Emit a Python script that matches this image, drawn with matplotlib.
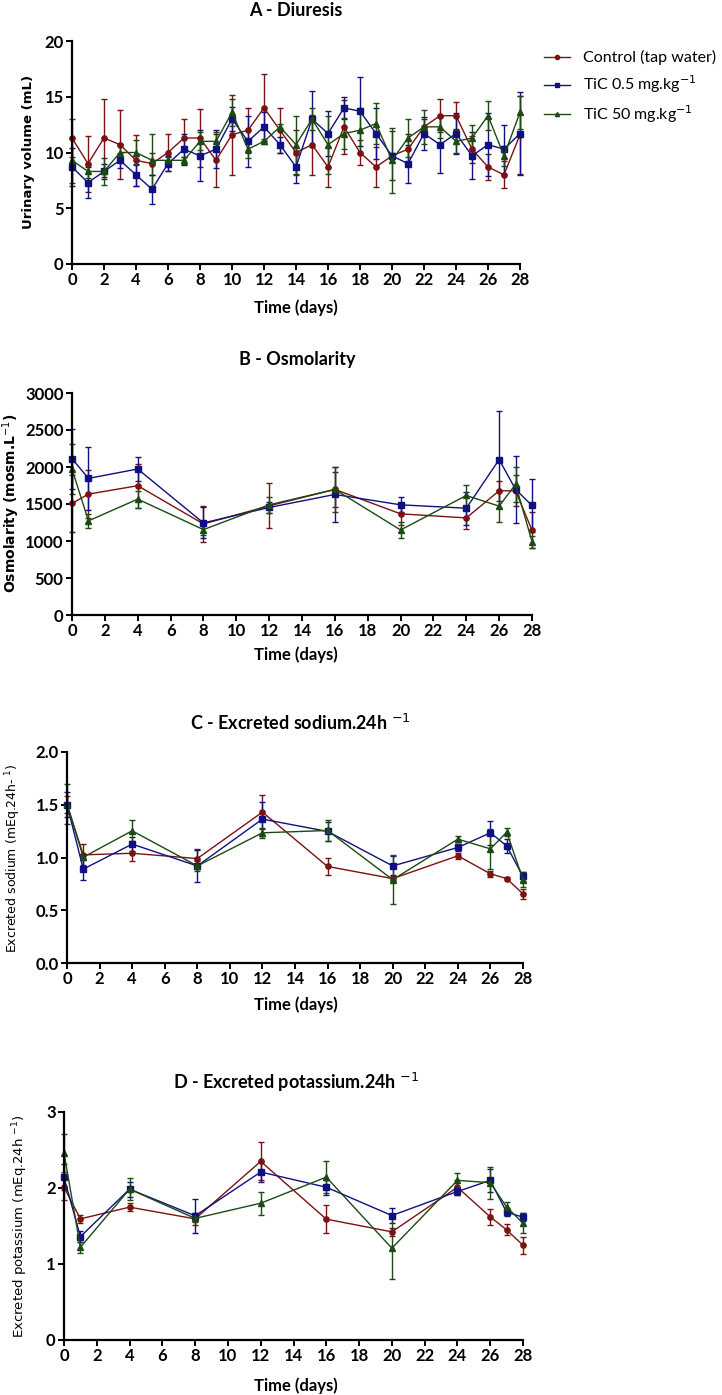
import matplotlib
matplotlib.use("Agg")
import matplotlib.pyplot as plt
from matplotlib.lines import Line2D

W, H = 722, 1395

# ---- data ----
days_a = list(range(29))
vol_ctrl = [11.3, 9.0, 11.3, 10.7, 9.3, 9.0, 10.0, 11.3, 11.3, 9.3, 11.6, 12.0, 14.0, 12.0, 10.0,
            10.7, 8.7, 12.3, 10.0, 8.7, 9.7, 10.3, 12.3, 13.3, 13.3, 10.3, 8.7, 8.0, 11.6]
vol_ctrl_err = [1.7, 2.5, 3.5, 3.1, 2.3, 1.0, 1.7, 1.7, 2.6, 2.4, 3.6, 2.0, 3.0, 2.0, 2.0,
                2.7, 1.8, 2.4, 1.1, 1.8, 2.2, 1.4, 0.7, 1.5, 1.2, 1.2, 1.2, 1.2, 3.5]
vol_tic05 = [8.7, 7.3, 8.3, 9.3, 8.0, 6.7, 9.0, 10.3, 9.7, 10.3, 13.0, 11.0, 12.3, 10.7, 8.7,
             13.0, 11.7, 14.0, 13.7, 11.7, 9.7, 9.0, 11.7, 10.7, 11.7, 9.7, 10.7, 10.3, 11.7]
vol_tic05_err = [1.7, 1.4, 0.7, 0.7, 1.0, 1.3, 0.7, 1.4, 2.3, 1.7, 1.1, 2.3, 1.3, 0.7, 1.4,
                 2.5, 2.0, 1.0, 3.1, 2.3, 0.3, 1.7, 1.5, 2.5, 1.8, 2.1, 2.8, 2.2, 3.7]
vol_tic50 = [9.3, 8.3, 8.3, 10.0, 10.0, 9.3, 9.3, 9.3, 11.0, 11.0, 13.6, 10.3, 11.0, 12.3, 10.7,
             13.0, 10.7, 11.7, 12.0, 12.6, 9.3, 11.3, 12.3, 12.3, 11.0, 11.3, 13.3, 9.7, 13.6]
vol_tic50_err = [2.0, 0.6, 1.2, 0.8, 1.1, 2.4, 0.3, 0.3, 0.8, 0.8, 1.2, 0.8, 0.2, 0.3, 2.6,
                 1.0, 2.6, 1.4, 2.0, 1.8, 2.9, 1.7, 1.5, 1.0, 1.0, 1.2, 1.3, 0.9, 1.5]

days_b = [0, 1, 4, 8, 12, 16, 20, 24, 26, 27, 28]
osm_ctrl = [1507, 1634, 1747, 1231, 1475, 1697, 1367, 1312, 1679, 1679, 1146]
osm_ctrl_err = [385, 320, 300, 245, 303, 240, 150, 145, 135, 212, 244]
osm_tic05 = [2113, 1846, 1973, 1244, 1453, 1629, 1489, 1443, 2100, 1697, 1480]
osm_tic05_err = [407, 421, 167, 209, 70, 367, 100, 221, 656, 452, 360]
osm_tic50 = [1973, 1272, 1566, 1154, 1489, 1697, 1149, 1615, 1471, 1765, 992]
osm_tic50_err = [335, 91, 115, 75, 108, 300, 113, 136, 218, 240, 80]

na_ctrl = [1.50, 1.025, 1.04, 0.99, 1.43, 0.915, 0.80, 1.016, 0.845, 0.80, 0.655]
na_ctrl_err = [0.08, 0.10, 0.07, 0.09, 0.16, 0.085, 0.02, 0.03, 0.03, 0.015, 0.05]
na_tic05 = [1.50, 0.89, 1.127, 0.92, 1.364, 1.247, 0.92, 1.095, 1.234, 1.11, 0.82]
na_tic05_err = [0.12, 0.105, 0.07, 0.15, 0.16, 0.09, 0.09, 0.03, 0.114, 0.07, 0.04]
na_tic50 = [1.51, 1.003, 1.253, 0.92, 1.234, 1.256, 0.79, 1.174, 1.082, 1.24, 0.79]
na_tic50_err = [0.19, 0.03, 0.10, 0.05, 0.05, 0.10, 0.235, 0.03, 0.19, 0.04, 0.07]

k_ctrl = [2.01, 1.594, 1.748, 1.594, 2.35, 1.59, 1.423, 2.01, 1.62, 1.45, 1.247]
k_ctrl_err = [0.17, 0.05, 0.05, 0.08, 0.25, 0.18, 0.05, 0.10, 0.11, 0.07, 0.11]
k_tic05 = [2.14, 1.36, 1.985, 1.634, 2.21, 2.01, 1.638, 1.954, 2.10, 1.682, 1.616]
k_tic05_err = [0.17, 0.07, 0.10, 0.22, 0.13, 0.10, 0.10, 0.05, 0.15, 0.05, 0.05]
k_tic50 = [2.46, 1.22, 1.985, 1.60, 1.80, 2.143, 1.208, 2.10, 2.07, 1.75, 1.537]
k_tic50_err = [0.25, 0.07, 0.145, 0.05, 0.15, 0.21, 0.40, 0.10, 0.21, 0.07, 0.13]

labels = ["Control (tap water)", "TiC 0.5 mg.kg$^{-1}$", "TiC 50 mg.kg$^{-1}$"]
colors = ["#7a1212", "#101080", "#1b4a12"]
markers = ["o", "s", "^"]

plt.rcParams['font.family'] = ["Lato", "DejaVu Sans"]

fig = plt.figure(figsize=(W / 100, H / 100), dpi=100)


def rect(l, t, r, b):
    return [l / W, 1 - b / H, (r - l) / W, (b - t) / H]


def panel(box, xs, series, ylim, yticks, yfmt):
    ax = fig.add_axes(rect(*box))
    for (ys, es), c, m in zip(series, colors, markers):
        ax.errorbar(xs, ys, yerr=es, color=c, marker=m, markersize=3.8, linewidth=1.0,
                    elinewidth=1.0, capsize=2.5, capthick=1.0, clip_on=False)
    ax.set_xlim(0, 28)
    ax.set_ylim(*ylim)
    ax.set_xticks(range(0, 29, 2))
    ax.set_yticks(yticks)
    ax.set_yticklabels([yfmt(v) for v in yticks])
    for s in ["top", "right"]:
        ax.spines[s].set_visible(False)
    for s in ["left", "bottom"]:
        ax.spines[s].set_linewidth(1.6)
    ax.tick_params(direction="out", length=4, width=1.4, pad=2)
    for lab in ax.get_xticklabels() + ax.get_yticklabels():
        lab.set_fontweight("bold")
        lab.set_fontsize(12)
    return ax


# A - Diuresis
axA = panel((72, 41, 520, 264), days_a,
            [(vol_ctrl, vol_ctrl_err), (vol_tic05, vol_tic05_err), (vol_tic50, vol_tic50_err)],
            (0, 20), [0, 5, 10, 15, 20], lambda v: f"{v}")
# B - Osmolarity
axB = panel((72, 393, 532, 615), days_b,
            [(osm_ctrl, osm_ctrl_err), (osm_tic05, osm_tic05_err), (osm_tic50, osm_tic50_err)],
            (0, 3000), [0, 500, 1000, 1500, 2000, 2500, 3000], lambda v: f"{v}")
# C - sodium
axC = panel((67, 752, 523, 963), days_b,
            [(na_ctrl, na_ctrl_err), (na_tic05, na_tic05_err), (na_tic50, na_tic50_err)],
            (0, 2), [0, 0.5, 1.0, 1.5, 2.0], lambda v: f"{v:.1f}")
# D - potassium
axD = panel((64, 1112, 523, 1340), days_b,
            [(k_ctrl, k_ctrl_err), (k_tic05, k_tic05_err), (k_tic50, k_tic50_err)],
            (0, 3), [0, 1, 2, 3], lambda v: f"{v}")


def ftext(x, y, s, **kw):
    fig.text(x / W, 1 - y / H, s, ha="center", va="center", **kw)


# titles
ftext(296, 10, "A - Diuresis", fontsize=13, fontweight="bold")
ftext(297, 360, "B - Osmolarity", fontsize=13, fontweight="bold")
ftext(300, 723, "C - Excreted sodium.24h $^{-1}$", fontsize=13, fontweight="bold")
ftext(296, 1082, "D - Excreted potassium.24h $^{-1}$", fontsize=13, fontweight="bold")

# x labels
for yy in [308, 655, 1005, 1386]:
    ftext(296, yy, "Time (days)", fontsize=12, fontweight="bold")

# y labels
ftext(29, 152, "Urinary volume (mL)", fontsize=9.5, fontweight="bold", rotation=90, family="DejaVu Sans")
ftext(11, 503, "Osmolarity (mosm.L$^{-1}$)", fontsize=10, fontweight="bold", rotation=90, family="DejaVu Sans")
ftext(13, 858, "Excreted sodium (mEq.24h- $^{1}$)", fontsize=9, rotation=90, family="DejaVu Sans")
ftext(20, 1226, "Excreted potassium (mEq.24h $^{-1}$)", fontsize=9.5, rotation=90, family="DejaVu Sans")

# legend
handles = [Line2D([0], [0], color=c, marker=m, markersize=3, linewidth=1.0) for c, m in zip(colors, markers)]
fig.legend(handles, labels, loc="upper left", bbox_to_anchor=(530 / W, 1 - 36 / H),
           frameon=False, handlelength=1.6, handletextpad=0.8, labelspacing=0.5,
           prop={"size": 11.5})

fig.savefig("out.png", dpi=100)
